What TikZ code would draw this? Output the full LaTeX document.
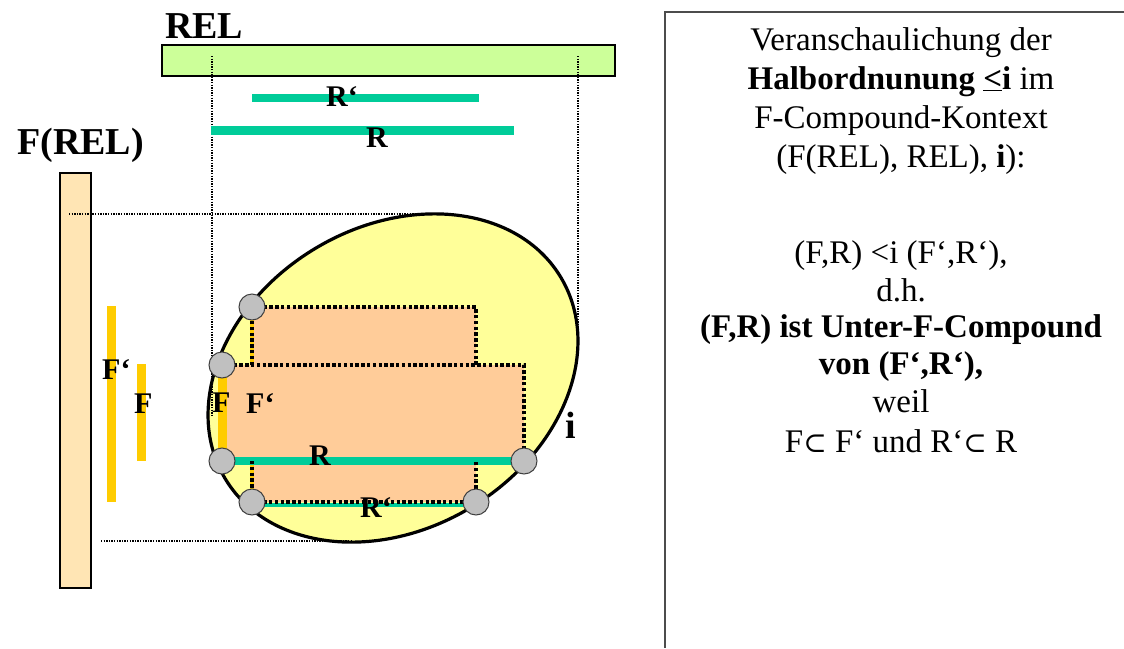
\documentclass[tikz,border=0pt]{standalone}
\usepackage{fontspec}
\setmainfont{Liberation Serif}
\newfontfamily\djv{DejaVu Serif}
\definecolor{relgreen}{HTML}{CCFF99}
\definecolor{frelfill}{HTML}{FFE5B4}
\definecolor{baryellow}{HTML}{FFCC00}
\definecolor{barteal}{HTML}{00CC99}
\definecolor{ellyellow}{HTML}{FFFF99}
\definecolor{peach}{HTML}{FFCC99}
\definecolor{knotgray}{HTML}{C0C0C0}
\begin{document}
\begin{tikzpicture}[x=1pt,y=-1pt,
  title/.style={font=\fontsize{38}{38}\selectfont\bfseries, inner sep=0pt, anchor=base west},
  lbl/.style={font=\fontsize{30}{30}\selectfont\bfseries, inner sep=0pt, anchor=base west},
  txt/.style={font=\fontsize{33}{38}\selectfont, inner sep=0pt, anchor=base},
  guide/.style={line width=1.2pt, dash pattern=on 1.3pt off 1.3pt},
  rimedge/.style={line width=3.4pt, dash pattern=on 3.4pt off 2.4pt},
  knot/.style={circle, draw=black!75, line width=1pt, fill=knotgray, minimum size=26pt, inner sep=0pt},
  barbox/.style={inner sep=0pt, rectangle}]
\useasboundingbox (0,0) rectangle (1124,648);

% big boxes
\node[barbox, draw, line width=1.2pt, fill=relgreen, minimum width=453pt, minimum height=31pt] (relbox) at (388.5,60.5) {};
\node[barbox, draw, line width=1.2pt, fill=frelfill, minimum width=31pt, minimum height=415pt] (frelbox) at (75.5,380.5) {};
\node[title] (reltitle) at (165,38) {REL};
\node[title] (freltitle) at (17,154) {F(REL)};

% ellipse
\draw[line width=3.2pt, fill=ellyellow, rotate around={31:(393,378)}] (393,378) ellipse [x radius=195.7pt, y radius=151.1pt];

% guide lines
\coordinate (gla) at (212,56);  \coordinate (glb) at (212,417);
\coordinate (gra) at (578,56);  \coordinate (grb) at (578,338);
\coordinate (gta) at (69,214);  \coordinate (gtb) at (425,214);
\coordinate (gba) at (101,541); \coordinate (gbb) at (353,541);
\draw[guide] (gla) -- (glb);
\draw[guide] (gra) -- (grb);
\draw[guide] (gta) -- (gtb);
\draw[guide] (gba) -- (gbb);

% projected bars
\node[barbox, fill=barteal, minimum width=227pt, minimum height=8pt] (rpbar) at (365.5,98) {};
\node[barbox, fill=barteal, minimum width=303pt, minimum height=9pt] (rbar) at (362.5,130.5) {};
\node[barbox, fill=baryellow, minimum width=9pt, minimum height=196pt] (fpbar) at (111.5,404) {};
\node[barbox, fill=baryellow, minimum width=9pt, minimum height=97pt] (fbar) at (141.5,412.5) {};
\node[lbl] (rplbl) at (326,106) {R‘};
\node[lbl] (rlbl) at (366,147) {R};
\node[lbl] (fplbl) at (102,379) {F‘};
\node[lbl] (flbl) at (134,413) {F};

% compound rectangles
\coordinate (a1) at (252,307); \coordinate (a2) at (476,307);
\coordinate (b1) at (222,365); \coordinate (b2) at (524,365);
\coordinate (a3) at (252,365); \coordinate (a4) at (476,365);
\coordinate (c1) at (222,461); \coordinate (c2) at (524,461);
\coordinate (d1) at (252,461); \coordinate (d2) at (476,461);
\coordinate (e1) at (252,502); \coordinate (e2) at (476,502);
\fill[peach] (a1) rectangle (a4);
\fill[peach] (b1) rectangle (c2);
\fill[peach] (d1) rectangle (e2);
\draw[baryellow, line width=4pt] (a1) -- (a3);
\draw[baryellow, line width=4pt] (d1) -- (e1);
\draw[baryellow, line width=9pt] (b1) -- (c1);
\draw[barteal, line width=8pt] (c1) -- (c2);
\draw[barteal, line width=4pt] ([yshift=-3pt]e1) -- ([yshift=-3pt]e2);
\draw[rimedge] (a3) -- (a1) -- (a2) -- (a4);
\draw[rimedge] (b1) -- (b2) -- (c2);
\draw[rimedge] (d1) -- (e1) -- (e2) -- (d2);

\node[knot] (k1) at (a1) {};
\node[knot] (k2) at (b1) {};
\node[knot] (k3) at (c1) {};
\node[knot] (k4) at (c2) {};
\node[knot] (k5) at (e1) {};
\node[knot] (k6) at (e2) {};

\node[lbl] (finlbl) at (212,412) {F};
\node[lbl] (fpinlbl) at (246,413) {F‘};
\node[lbl] (rinlbl) at (309,465) {R};
\node[lbl] (rpinlbl) at (360,517) {R‘};
\node[title] (ilbl) at (565,438) {i};

% explanation box
\draw[black!70, line width=1.2pt] (1124,12) -- (665,12) -- (665,648);
\node[txt] (t1) at (901,50) {Veranschaulichung der};
\node[txt] (t2) at (901,89) {\textbf{Halbordnunung \underline{<}i} im};
\node[txt] (t3) at (901,128) {F-Compound-Kontext};
\node[txt] (t4) at (901,167) {(F(REL), REL), \textbf{i}):};
\node[txt] (t5) at (901,263) {(F,R) <i (F‘,R‘),};
\node[txt] (t6) at (901,301) {d.h.};
\node[txt] (t7) at (901,337) {\textbf{(F,R) ist Unter-F-Compound}};
\node[txt] (t8) at (901,374) {\textbf{von (F‘,R‘),}};
\node[txt] (t9) at (901,412) {weil};
\node[txt] (t10) at (901,452) {F{\djv\fontsize{28}{28}\selectfont ⊂} F‘ und R‘{\djv\fontsize{28}{28}\selectfont ⊂} R};
\end{tikzpicture}
\end{document}
